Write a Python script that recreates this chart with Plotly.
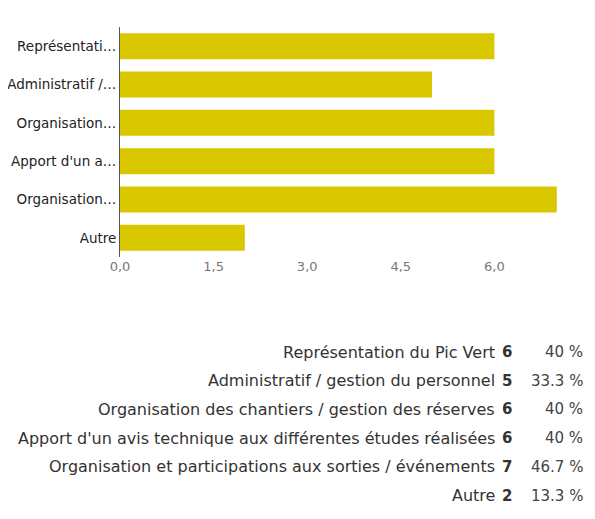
import plotly.graph_objects as go

categories = [
    "Représentation du Pic Vert",
    "Administratif / gestion du personnel",
    "Organisation des chantiers / gestion des réserves",
    "Apport d'un avis technique aux différentes études réalisées",
    "Organisation et participations aux sorties / événements",
    "Autre",
]
short_labels = ["Représentati…", "Administratif /…", "Organisation…", "Apport d'un a…", "Organisation…", "Autre"]
counts = [6, 5, 6, 6, 7, 2]
percents = ["40 %", "33.3 %", "40 %", "40 %", "46.7 %", "13.3 %"]
x_ticks = [0, 1.5, 3.0, 4.5, 6.0]
x_tick_labels = ["0,0", "1,5", "3,0", "4,5", "6,0"]

W, H = 595, 519
OFF = 8  # page body margin offset
FONT = "DejaVu Sans, Liberation Sans, Arial, sans-serif"

fig = go.Figure()
fig.add_trace(go.Bar(
    y=categories, x=counts, orientation="h",
    marker=dict(color="#d9c700", line=dict(width=0)),
    hoverinfo="skip",
))

ax0 = 120 - OFF
unit = 62.4
fig.update_layout(
    width=W, height=H,
    margin=dict(l=0, r=0, t=0, b=0),
    paper_bgcolor="white", plot_bgcolor="white",
    showlegend=False,
    bargap=0.32,
    font=dict(family=FONT, color="#222"),
)
fig.update_xaxes(
    domain=[ax0 / W, (ax0 + 7.5 * unit) / W],
    range=[0, 7.5], tickvals=x_ticks, ticktext=x_tick_labels,
    showgrid=False, zeroline=False, showline=False,
    tickfont=dict(size=13, color="#777", family=FONT), ticks="", automargin=False,
)
fig.update_yaxes(
    domain=[1 - (257 - OFF) / H, 1 - (27 - OFF) / H],
    categoryorder="array", categoryarray=categories[::-1],
    tickvals=categories, ticktext=short_labels,
    showgrid=False, zeroline=False, showline=True, linecolor="#555", linewidth=1,
    tickfont=dict(size=13.5, color="#222", family=FONT), ticks="", automargin=False,
)

row_y0 = 352 - OFF
row_step = 28.7
for i, (c, n, p) in enumerate(zip(categories, counts, percents)):
    yy = 1 - (row_y0 + i * row_step) / H
    fig.add_annotation(x=(497 - OFF) / W, y=yy, xref="paper", yref="paper", text=c,
                       showarrow=False, xanchor="right", yanchor="middle",
                       font=dict(size=16, color="#333", family=FONT))
    fig.add_annotation(x=(507 - OFF) / W, y=yy, xref="paper", yref="paper", text=f"<b>{n}</b>",
                       showarrow=False, xanchor="center", yanchor="middle",
                       font=dict(size=15, color="#333", family=FONT))
    fig.add_annotation(x=(585 - OFF) / W, y=yy, xref="paper", yref="paper", text=p,
                       showarrow=False, xanchor="right", yanchor="middle",
                       font=dict(size=15, color="#444", family=FONT))

fig.write_html("out.html")
